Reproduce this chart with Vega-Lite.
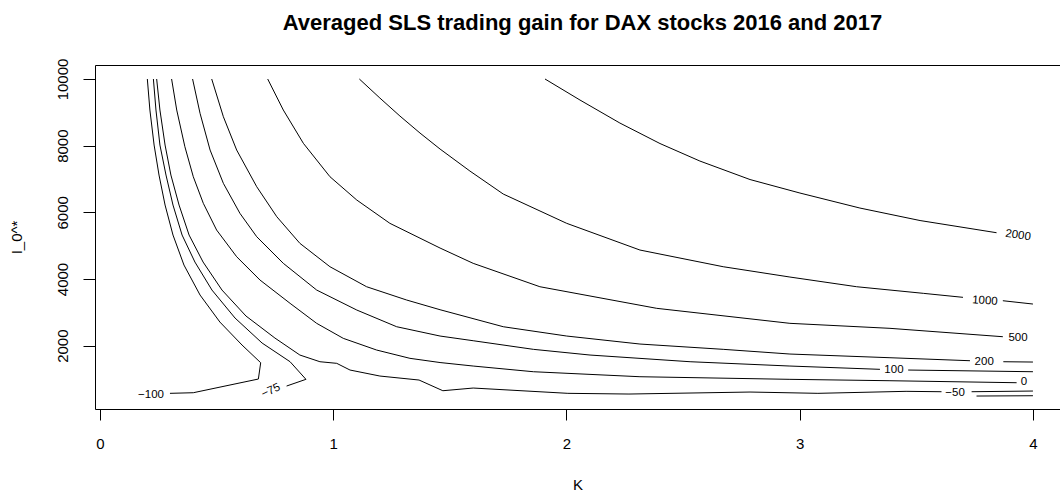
{
  "$schema": "https://vega.github.io/schema/vega-lite/v6.json",
  "width": 965,
  "height": 344,
  "autosize": {"type": "none"},
  "padding": {"left": 95, "top": 65, "right": 0, "bottom": 91},
  "background": "white",
  "title": {
    "text": "Averaged SLS trading gain for DAX stocks 2016 and 2017",
    "font": "Liberation Sans",
    "fontSize": 22,
    "fontWeight": "bold",
    "color": "black",
    "anchor": "middle",
    "dx": 5,
    "offset": 23
  },
  "config": {
    "view": {"stroke": null},
    "font": "Liberation Sans",
    "axis": {
      "domainColor": "black",
      "tickColor": "black",
      "labelColor": "black",
      "titleColor": "black",
      "labelFont": "Liberation Sans",
      "titleFont": "Liberation Sans",
      "labelFontSize": 15,
      "titleFontSize": 15,
      "titleFontWeight": "normal",
      "grid": false,
      "tickSize": 11,
      "domainWidth": 1,
      "tickWidth": 1
    }
  },
  "datasets": {
    "lines": [
      {"seg": "m100", "o": 1, "x": 0.203, "y": 10000},
      {"seg": "m100", "o": 2, "x": 0.214, "y": 9069},
      {"seg": "m100", "o": 3, "x": 0.232, "y": 8019},
      {"seg": "m100", "o": 4, "x": 0.253, "y": 7119},
      {"seg": "m100", "o": 5, "x": 0.279, "y": 6219},
      {"seg": "m100", "o": 6, "x": 0.313, "y": 5319},
      {"seg": "m100", "o": 7, "x": 0.360, "y": 4419},
      {"seg": "m100", "o": 8, "x": 0.429, "y": 3519},
      {"seg": "m100", "o": 9, "x": 0.514, "y": 2709},
      {"seg": "m100", "o": 10, "x": 0.609, "y": 2019},
      {"seg": "m100", "o": 11, "x": 0.689, "y": 1488},
      {"seg": "m100", "o": 12, "x": 0.679, "y": 999},
      {"seg": "m100", "o": 13, "x": 0.400, "y": 588},
      {"seg": "m100", "o": 14, "x": 0.300, "y": 570},

      {"seg": "m75", "o": 1, "x": 0.229, "y": 10000},
      {"seg": "m75", "o": 2, "x": 0.240, "y": 9069},
      {"seg": "m75", "o": 3, "x": 0.257, "y": 8019},
      {"seg": "m75", "o": 4, "x": 0.283, "y": 7119},
      {"seg": "m75", "o": 5, "x": 0.313, "y": 6219},
      {"seg": "m75", "o": 6, "x": 0.352, "y": 5319},
      {"seg": "m75", "o": 7, "x": 0.407, "y": 4509},
      {"seg": "m75", "o": 8, "x": 0.480, "y": 3669},
      {"seg": "m75", "o": 9, "x": 0.579, "y": 2829},
      {"seg": "m75", "o": 10, "x": 0.695, "y": 2079},
      {"seg": "m75", "o": 11, "x": 0.815, "y": 1518},
      {"seg": "m75", "o": 12, "x": 0.883, "y": 990},
      {"seg": "m75", "o": 13, "x": 0.800, "y": 789},

      {"seg": "m50a", "o": 1, "x": 0.243, "y": 10000},
      {"seg": "m50a", "o": 2, "x": 0.257, "y": 9069},
      {"seg": "m50a", "o": 3, "x": 0.279, "y": 8019},
      {"seg": "m50a", "o": 4, "x": 0.304, "y": 7119},
      {"seg": "m50a", "o": 5, "x": 0.339, "y": 6219},
      {"seg": "m50a", "o": 6, "x": 0.382, "y": 5319},
      {"seg": "m50a", "o": 7, "x": 0.442, "y": 4509},
      {"seg": "m50a", "o": 8, "x": 0.523, "y": 3669},
      {"seg": "m50a", "o": 9, "x": 0.626, "y": 2889},
      {"seg": "m50a", "o": 10, "x": 0.750, "y": 2229},
      {"seg": "m50a", "o": 11, "x": 0.857, "y": 1719},
      {"seg": "m50a", "o": 12, "x": 0.943, "y": 1518},
      {"seg": "m50a", "o": 13, "x": 1.015, "y": 1470},
      {"seg": "m50a", "o": 14, "x": 1.072, "y": 1269},
      {"seg": "m50a", "o": 15, "x": 1.200, "y": 1089},
      {"seg": "m50a", "o": 16, "x": 1.368, "y": 969},
      {"seg": "m50a", "o": 17, "x": 1.470, "y": 648},
      {"seg": "m50a", "o": 18, "x": 1.600, "y": 729},
      {"seg": "m50a", "o": 19, "x": 2.006, "y": 570},
      {"seg": "m50a", "o": 20, "x": 2.268, "y": 549},
      {"seg": "m50a", "o": 21, "x": 2.787, "y": 609},
      {"seg": "m50a", "o": 22, "x": 3.078, "y": 570},
      {"seg": "m50a", "o": 23, "x": 3.456, "y": 630},
      {"seg": "m50a", "o": 24, "x": 3.608, "y": 618},
      {"seg": "m50b", "o": 1, "x": 3.737, "y": 618},
      {"seg": "m50b", "o": 2, "x": 4.0, "y": 639},
      {"seg": "m50c", "o": 1, "x": 3.758, "y": 489},
      {"seg": "m50c", "o": 2, "x": 4.0, "y": 498},

      {"seg": "z0", "o": 1, "x": 0.307, "y": 10000},
      {"seg": "z0", "o": 2, "x": 0.329, "y": 9069},
      {"seg": "z0", "o": 3, "x": 0.364, "y": 7968},
      {"seg": "z0", "o": 4, "x": 0.400, "y": 7068},
      {"seg": "z0", "o": 5, "x": 0.443, "y": 6270},
      {"seg": "z0", "o": 6, "x": 0.500, "y": 5469},
      {"seg": "z0", "o": 7, "x": 0.586, "y": 4668},
      {"seg": "z0", "o": 8, "x": 0.686, "y": 3969},
      {"seg": "z0", "o": 9, "x": 0.815, "y": 3270},
      {"seg": "z0", "o": 10, "x": 0.929, "y": 2670},
      {"seg": "z0", "o": 11, "x": 1.043, "y": 2220},
      {"seg": "z0", "o": 12, "x": 1.186, "y": 1869},
      {"seg": "z0", "o": 13, "x": 1.329, "y": 1620},
      {"seg": "z0", "o": 14, "x": 1.458, "y": 1494},
      {"seg": "z0", "o": 15, "x": 1.600, "y": 1389},
      {"seg": "z0", "o": 16, "x": 1.858, "y": 1218},
      {"seg": "z0", "o": 17, "x": 2.315, "y": 1068},
      {"seg": "z0", "o": 18, "x": 2.958, "y": 990},
      {"seg": "z0", "o": 19, "x": 3.387, "y": 948},
      {"seg": "z0", "o": 20, "x": 3.930, "y": 888},

      {"seg": "p100a", "o": 1, "x": 0.397, "y": 10000},
      {"seg": "p100a", "o": 2, "x": 0.429, "y": 8970},
      {"seg": "p100a", "o": 3, "x": 0.472, "y": 7869},
      {"seg": "p100a", "o": 4, "x": 0.529, "y": 6870},
      {"seg": "p100a", "o": 5, "x": 0.600, "y": 5970},
      {"seg": "p100a", "o": 6, "x": 0.672, "y": 5268},
      {"seg": "p100a", "o": 7, "x": 0.786, "y": 4470},
      {"seg": "p100a", "o": 8, "x": 0.929, "y": 3669},
      {"seg": "p100a", "o": 9, "x": 1.101, "y": 3069},
      {"seg": "p100a", "o": 10, "x": 1.272, "y": 2568},
      {"seg": "p100a", "o": 11, "x": 1.458, "y": 2289},
      {"seg": "p100a", "o": 12, "x": 1.600, "y": 2148},
      {"seg": "p100a", "o": 13, "x": 1.858, "y": 1890},
      {"seg": "p100a", "o": 14, "x": 2.101, "y": 1719},
      {"seg": "p100a", "o": 15, "x": 2.530, "y": 1518},
      {"seg": "p100a", "o": 16, "x": 2.958, "y": 1389},
      {"seg": "p100a", "o": 17, "x": 3.344, "y": 1290},
      {"seg": "p100b", "o": 1, "x": 3.465, "y": 1269},
      {"seg": "p100b", "o": 2, "x": 4.0, "y": 1218},

      {"seg": "p200a", "o": 1, "x": 0.479, "y": 10000},
      {"seg": "p200a", "o": 2, "x": 0.529, "y": 8868},
      {"seg": "p200a", "o": 3, "x": 0.586, "y": 7869},
      {"seg": "p200a", "o": 4, "x": 0.672, "y": 6768},
      {"seg": "p200a", "o": 5, "x": 0.758, "y": 5868},
      {"seg": "p200a", "o": 6, "x": 0.857, "y": 5070},
      {"seg": "p200a", "o": 7, "x": 0.986, "y": 4368},
      {"seg": "p200a", "o": 8, "x": 1.143, "y": 3768},
      {"seg": "p200a", "o": 9, "x": 1.315, "y": 3369},
      {"seg": "p200a", "o": 10, "x": 1.458, "y": 3078},
      {"seg": "p200a", "o": 11, "x": 1.729, "y": 2568},
      {"seg": "p200a", "o": 12, "x": 2.001, "y": 2289},
      {"seg": "p200a", "o": 13, "x": 2.315, "y": 2049},
      {"seg": "p200a", "o": 14, "x": 2.672, "y": 1890},
      {"seg": "p200a", "o": 15, "x": 2.958, "y": 1749},
      {"seg": "p200a", "o": 16, "x": 3.387, "y": 1638},
      {"seg": "p200a", "o": 17, "x": 3.730, "y": 1548},
      {"seg": "p200b", "o": 1, "x": 3.873, "y": 1518},
      {"seg": "p200b", "o": 2, "x": 4.0, "y": 1509},

      {"seg": "p500", "o": 1, "x": 0.719, "y": 10000},
      {"seg": "p500", "o": 2, "x": 0.786, "y": 9069},
      {"seg": "p500", "o": 3, "x": 0.872, "y": 8070},
      {"seg": "p500", "o": 4, "x": 0.986, "y": 7068},
      {"seg": "p500", "o": 5, "x": 1.101, "y": 6369},
      {"seg": "p500", "o": 6, "x": 1.243, "y": 5670},
      {"seg": "p500", "o": 7, "x": 1.458, "y": 4929},
      {"seg": "p500", "o": 8, "x": 1.600, "y": 4470},
      {"seg": "p500", "o": 9, "x": 1.886, "y": 3768},
      {"seg": "p500", "o": 10, "x": 2.387, "y": 3120},
      {"seg": "p500", "o": 11, "x": 2.958, "y": 2670},
      {"seg": "p500", "o": 12, "x": 3.387, "y": 2520},
      {"seg": "p500", "o": 13, "x": 3.871, "y": 2268},

      {"seg": "p1000a", "o": 1, "x": 1.112, "y": 10000},
      {"seg": "p1000a", "o": 2, "x": 1.200, "y": 9429},
      {"seg": "p1000a", "o": 3, "x": 1.286, "y": 8889},
      {"seg": "p1000a", "o": 4, "x": 1.372, "y": 8379},
      {"seg": "p1000a", "o": 5, "x": 1.458, "y": 7899},
      {"seg": "p1000a", "o": 6, "x": 1.586, "y": 7239},
      {"seg": "p1000a", "o": 7, "x": 1.729, "y": 6549},
      {"seg": "p1000a", "o": 8, "x": 2.001, "y": 5670},
      {"seg": "p1000a", "o": 9, "x": 2.315, "y": 4869},
      {"seg": "p1000a", "o": 10, "x": 2.672, "y": 4368},
      {"seg": "p1000a", "o": 11, "x": 2.958, "y": 4059},
      {"seg": "p1000a", "o": 12, "x": 3.244, "y": 3768},
      {"seg": "p1000a", "o": 13, "x": 3.530, "y": 3570},
      {"seg": "p1000a", "o": 14, "x": 3.700, "y": 3450},
      {"seg": "p1000b", "o": 1, "x": 3.871, "y": 3348},
      {"seg": "p1000b", "o": 2, "x": 4.0, "y": 3249},

      {"seg": "p2000", "o": 1, "x": 1.908, "y": 10000},
      {"seg": "p2000", "o": 2, "x": 2.058, "y": 9369},
      {"seg": "p2000", "o": 3, "x": 2.229, "y": 8679},
      {"seg": "p2000", "o": 4, "x": 2.401, "y": 8064},
      {"seg": "p2000", "o": 5, "x": 2.572, "y": 7539},
      {"seg": "p2000", "o": 6, "x": 2.787, "y": 6984},
      {"seg": "p2000", "o": 7, "x": 3.001, "y": 6579},
      {"seg": "p2000", "o": 8, "x": 3.258, "y": 6129},
      {"seg": "p2000", "o": 9, "x": 3.516, "y": 5754},
      {"seg": "p2000", "o": 10, "x": 3.844, "y": 5388}
    ],
    "labels": [
      {"label": "−100", "x": 0.219, "y": 519},
      {"label": "−50", "x": 3.666, "y": 594},
      {"label": "0", "x": 3.961, "y": 900},
      {"label": "100", "x": 3.404, "y": 1284},
      {"label": "200", "x": 3.791, "y": 1518},
      {"label": "500", "x": 3.936, "y": 2220}
    ],
    "labels75": [
      {"label": "−75", "x": 0.733, "y": 639}
    ],
    "labels1000": [
      {"label": "1000", "x": 3.794, "y": 3339}
    ],
    "labels2000": [
      {"label": "2000", "x": 3.936, "y": 5304}
    ]
  },
  "resolve": {"axis": {"x": "independent"}},
  "layer": [
    {
      "data": {"name": "lines"},
      "mark": {"type": "line", "color": "black", "strokeWidth": 1, "clip": true},
      "encoding": {
        "x": {
          "field": "x", "type": "quantitative",
          "scale": {"domain": [-0.0214, 4.116], "nice": false, "zero": false},
          "axis": {"values": [0, 1, 2, 3, 4], "format": "d", "title": "K", "labelPadding": 16, "titlePadding": 26, "orient": "bottom"}
        },
        "y": {
          "field": "y", "type": "quantitative",
          "scale": {"domain": [100, 10420], "nice": false, "zero": false},
          "axis": {"values": [2000, 4000, 6000, 8000, 10000], "format": "d", "title": "I_0^*", "labelAngle": -90, "labelAlign": "center", "labelBaseline": "bottom", "labelPadding": 13, "titlePadding": 31, "tickSize": 12}
        },
        "detail": {"field": "seg"},
        "order": {"field": "o"}
      }
    },
    {
      "data": {"name": "labels"},
      "mark": {"type": "text", "fontSize": 11.5, "font": "Liberation Sans", "color": "black", "align": "center", "baseline": "middle"},
      "encoding": {
        "x": {"field": "x", "type": "quantitative", "axis": {"orient": "top", "labels": false, "ticks": false, "domain": true, "title": null, "grid": false}},
        "y": {"field": "y", "type": "quantitative"},
        "text": {"field": "label"}
      }
    },
    {
      "data": {"name": "labels75"},
      "mark": {"type": "text", "fontSize": 11.5, "font": "Liberation Sans", "color": "black", "align": "center", "baseline": "middle", "angle": 335},
      "encoding": {
        "x": {"field": "x", "type": "quantitative", "axis": null},
        "y": {"field": "y", "type": "quantitative"},
        "text": {"field": "label"}
      }
    },
    {
      "data": {"name": "labels1000"},
      "mark": {"type": "text", "fontSize": 11.5, "font": "Liberation Sans", "color": "black", "align": "center", "baseline": "middle", "angle": 4},
      "encoding": {
        "x": {"field": "x", "type": "quantitative", "axis": null},
        "y": {"field": "y", "type": "quantitative"},
        "text": {"field": "label"}
      }
    },
    {
      "data": {"name": "labels2000"},
      "mark": {"type": "text", "fontSize": 11.5, "font": "Liberation Sans", "color": "black", "align": "center", "baseline": "middle", "angle": 8},
      "encoding": {
        "x": {"field": "x", "type": "quantitative", "axis": null},
        "y": {"field": "y", "type": "quantitative"},
        "text": {"field": "label"}
      }
    }
  ]
}
